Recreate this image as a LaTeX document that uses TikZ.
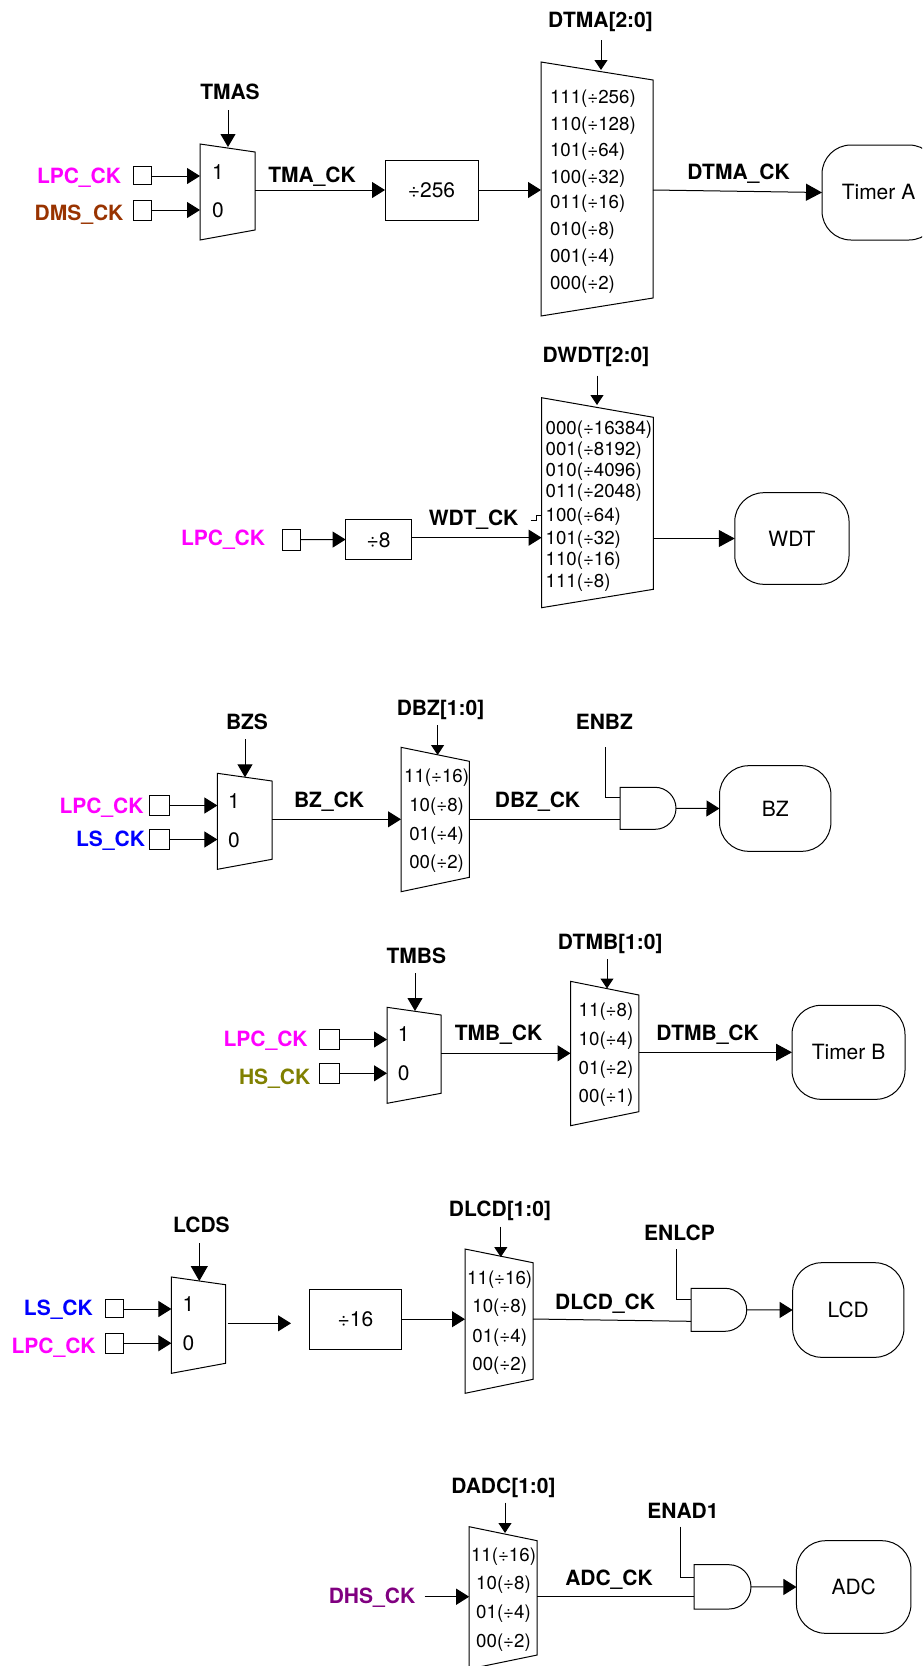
\documentclass[tikz,border=0pt]{standalone}
\usepackage{fontspec}
\setmainfont{TeX Gyre Heros}
\usetikzlibrary{arrows.meta,calc}
\definecolor{cLPC}{RGB}{255,0,255}
\definecolor{cDMS}{RGB}{153,51,0}
\definecolor{cLS}{RGB}{0,0,255}
\definecolor{cHS}{RGB}{128,128,0}
\definecolor{cDHS}{RGB}{128,0,128}
\tikzset{
  wire/.style={line width=1pt,draw=black},
  flowarrow/.style={wire,-{Triangle[length=13pt,width=16pt]}},
  bigarrow/.style={wire,-{Triangle[length=16pt,width=17pt]}},
  selarrow/.style={wire,-{Triangle[length=10pt,width=13pt]}},
  selbig/.style={wire,-{Triangle[length=13pt,width=15pt]}},
  txt/.style={inner sep=0pt,outer sep=0pt,text height=15pt,text depth=0pt,font=\fontsize{21}{21}\selectfont},
  lbl/.style={txt,font=\fontsize{21}{21}\selectfont\bfseries},
  row/.style={inner sep=0pt,outer sep=0pt,text height=13.5pt,text depth=0pt,font=\fontsize{18.7}{19}\selectfont},
  rowl/.style={row,anchor=west},
  pin/.style={draw,line width=1pt,inner sep=0pt,outer sep=0pt,fill=white},
  divbox/.style={draw,line width=1pt,inner sep=0pt,outer sep=0pt,txt},
  block/.style={draw,line width=1pt,inner sep=0pt,outer sep=0pt,rounded corners=29pt,txt},
  area/.style={inner sep=0pt,outer sep=0pt},
}
% mux: name, x left, x right, y top-left, y top-right, y bottom-right, y bottom-left
\newcommand{\muxshape}[7]{%
  \pgfmathsetmacro{\mw}{#3-#2}\pgfmathsetmacro{\mh}{#7-#4}%
  \pgfmathsetmacro{\mx}{(#2+#3)/2}\pgfmathsetmacro{\my}{(#4+#7)/2}%
  \node[area,minimum width=\mw pt,minimum height=\mh pt] (#1) at (\mx,\my) {};
  \draw[wire,line join=miter] (#2,#4) -- (#3,#5) -- (#3,#6) -- (#2,#7) -- cycle;
}
% AND gate: name, left, top, x where curve starts, right, bottom
\newcommand{\andshape}[6]{%
  \pgfmathsetmacro{\mw}{#5-#2}\pgfmathsetmacro{\mh}{#6-#3}%
  \pgfmathsetmacro{\mx}{(#2+#5)/2}\pgfmathsetmacro{\my}{(#3+#6)/2}%
  \pgfmathsetmacro{\ca}{#4+0.5523*(#5-#4)}%
  \pgfmathsetmacro{\cb}{\my-0.5523*(\my-#3)}\pgfmathsetmacro{\cc}{\my+0.5523*(\my-#3)}%
  \node[area,minimum width=\mw pt,minimum height=\mh pt] (#1) at (\mx,\my) {};
  \draw[wire] (#2,#3) -- (#4,#3) .. controls (\ca,#3) and (#5,\cb) .. (#5,\my) .. controls (#5,\cc) and (\ca,#6) .. (#4,#6) -- (#2,#6) -- cycle;
}
\begin{document}
\begin{tikzpicture}[x=1pt,y=-1pt]
\useasboundingbox (0,0) rectangle (922,1666);
\clip (0,0) rectangle (922,1666);

%% ---------- Timer A
\muxshape{mA}{200}{255}{144}{152}{230}{240}
\node[txt] (mA1) at (218,172) {1};
\node[txt] (mA0) at (218,210) {0};
\node[lbl] (tTMAS) at (230,92) {TMAS};
\coordinate (sTMAS) at (228,110);
\coordinate (eTMAS) at (228,147);
\draw[selbig] (sTMAS) -- (eTMAS);
\node[lbl,text=cLPC] (tA1) at (79,175.5) {LPC\_CK};
\node[lbl,text=cDMS] (tA2) at (79,213) {DMS\_CK};
\node[pin,minimum width=18.5pt,minimum height=18pt] (pA1) at (142.7,175) {};
\node[pin,minimum width=18.5pt,minimum height=20pt] (pA2) at (142.7,210) {};
\draw[flowarrow] (pA1.east |- 0,176) -- (mA.west |- 0,176);
\draw[flowarrow] (pA2.east) -- (mA.west |- pA2.east);
\node[divbox,minimum width=93pt,minimum height=60pt] (dA) at (431.5,190) {÷256};
\draw[flowarrow] (mA.east |- dA.west) -- (dA.west);
\node[lbl] (tTMACK) at (312,175) {TMA\_CK};
\muxshape{mB}{541}{653}{62}{80}{298}{316}
\node[lbl] (tDTMA) at (600.5,20) {DTMA[2:0]};
\coordinate (sDTMA) at (601,40);
\coordinate (eDTMA) at (601,70);
\draw[selarrow] (sDTMA) -- (eDTMA);
\draw[flowarrow] (dA.east) -- (mB.west |- dA.east);
\node[rowl] (a1) at (550,97) {111(÷256)};
\node[rowl] (a2) at (550,124) {110(÷128)};
\node[rowl] (a3) at (550,150) {101(÷64)};
\node[rowl] (a4) at (550,177) {100(÷32)};
\node[rowl] (a5) at (550,202) {011(÷16)};
\node[rowl] (a6) at (550,229) {010(÷8)};
\node[rowl] (a7) at (550,256) {001(÷4)};
\node[rowl] (a8) at (550,283) {000(÷2)};
\node[block,minimum width=116pt,minimum height=95pt] (bA) at (880,192.5) {};
\node[txt] (tbA) at (878.5,192) {Timer A};
\draw[bigarrow] (mB.east |- 0,190) -- (bA.west);
\node[lbl] (tDTMACK) at (738.5,172) {DTMA\_CK};

%% ---------- WDT
\node[lbl,text=cLPC] (tW1) at (223,538.3) {LPC\_CK};
\node[pin,minimum width=18pt,minimum height=21pt] (pW) at (291,539.7) {};
\node[divbox,minimum width=66pt,minimum height=39.6pt] (dW) at (378.6,539.5) {÷8};
\draw[flowarrow] (pW.east) -- (dW.west);
\muxshape{mW}{541.6}{653.4}{397.7}{417.3}{589.3}{607.7}
\node[lbl] (tDWDT) at (596,355) {DWDT[2:0]};
\coordinate (sDWDT) at (597,375.7);
\coordinate (eDWDT) at (597,405);
\draw[selarrow] (sDWDT) -- (eDWDT);
\node[rowl] (w1) at (545.6,427.7) {000(÷16384)};
\node[rowl] (w2) at (545.6,448.7) {001(÷8192)};
\node[rowl] (w3) at (545.6,469.3) {010(÷4096)};
\node[rowl] (w4) at (545.6,490.7) {011(÷2048)};
\node[rowl] (w5) at (545.6,515) {100(÷64)};
\node[rowl] (w6) at (545.6,538) {101(÷32)};
\node[rowl] (w7) at (545.6,559) {110(÷16)};
\node[rowl] (w8) at (545.6,580.7) {111(÷8)};
\coordinate (jog) at (530.7,520);
\draw[line width=0.6pt] (jog) -- (536,520) -- (536,515.5) -- (mW.west |- 0,515.5);
\draw[flowarrow] (dW.east |- 0,537.7) -- (mW.west |- 0,537.7);
\node[lbl] (tWDTCK) at (473.6,518.3) {WDT\_CK};
\node[block,minimum width=114.3pt,minimum height=91.6pt] (bW) at (791.9,538.5) {WDT};
\draw[bigarrow] (mW.east |- bW.west) -- (bW.west);

%% ---------- BZ
\muxshape{mZ}{217.4}{272}{773.3}{781}{859.3}{869.3}
\node[txt] (mZ1) at (234,800.7) {1};
\node[txt] (mZ0) at (234,839.7) {0};
\node[lbl] (tBZS) at (247,721.7) {BZS};
\coordinate (sBZS) at (245,739.3);
\coordinate (eBZS) at (245,777.3);
\draw[selbig] (sBZS) -- (eBZS);
\node[lbl,text=cLPC] (tZ1) at (101.5,805.7) {LPC\_CK};
\node[lbl,text=cLS] (tZ2) at (110.5,839.3) {LS\_CK};
\node[pin,minimum width=20pt,minimum height=20.4pt] (pZ1) at (159.7,805.5) {};
\node[pin,minimum width=20pt,minimum height=20.4pt] (pZ2) at (159.7,839.5) {};
\draw[flowarrow] (pZ1.east) -- (mZ.west |- pZ1.east);
\draw[flowarrow] (pZ2.east) -- (mZ.west |- pZ2.east);
\muxshape{mY}{401}{469.4}{747.3}{761.3}{877.3}{891.7}
\node[lbl] (tDBZ) at (440.5,708.3) {DBZ[1:0]};
\coordinate (sDBZ) at (437.6,725.3);
\coordinate (eDBZ) at (437.6,755);
\draw[selarrow] (sDBZ) -- (eDBZ);
\draw[flowarrow] (mZ.east |- 0,819.3) -- (mY.west |- 0,819.3);
\node[lbl] (tBZCK) at (329,799.7) {BZ\_CK};
\node[row] (z1) at (436.6,776) {11(÷16)};
\node[row] (z2) at (436.6,805) {10(÷8)};
\node[row] (z3) at (436.6,833.7) {01(÷4)};
\node[row] (z4) at (436.6,862) {00(÷2)};
\andshape{gZ}{620}{787.3}{655}{676}{829.3}
\draw[wire] (mY.east |- 0,819.3) -- (gZ.west |- 0,819.3);
\node[lbl] (tDBZCK) at (537.5,799.7) {DBZ\_CK};
\node[lbl] (tENBZ) at (604.4,721.7) {ENBZ};
\coordinate (sENBZ) at (605,747.3);
\draw[wire] (sENBZ) |- (gZ.west |- 0,797.3);
\node[block,minimum width=111.4pt,minimum height=85.6pt] (bZ) at (775.2,808.5) {BZ};
\draw[flowarrow] (gZ.east) -- (bZ.west);

%% ---------- Timer B
\muxshape{mT}{387}{441}{1007.3}{1015}{1093.3}{1103.3}
\node[txt] (mT1) at (403.7,1034.3) {1};
\node[txt] (mT0) at (403.7,1072.7) {0};
\node[lbl] (tTMBS) at (416.4,955.7) {TMBS};
\coordinate (sTMBS) at (415,973.3);
\coordinate (eTMBS) at (415,1011);
\draw[selbig] (sTMBS) -- (eTMBS);
\node[lbl,text=cLPC] (tT1) at (265.6,1038.7) {LPC\_CK};
\node[lbl,text=cHS] (tT2) at (274.6,1076.7) {HS\_CK};
\node[pin,minimum width=20pt,minimum height=20.4pt] (pT1) at (329.7,1039.5) {};
\node[pin,minimum width=20pt,minimum height=20pt] (pT2) at (329.7,1073.3) {};
\draw[flowarrow] (pT1.east) -- (mT.west |- pT1.east);
\draw[flowarrow] (pT2.east) -- (mT.west |- pT2.east);
\muxshape{mU}{570.5}{638.8}{981.3}{995}{1111.7}{1125.7}
\node[lbl] (tDTMB) at (610.2,941.7) {DTMB[1:0]};
\coordinate (sDTMB) at (607,959.3);
\coordinate (eDTMB) at (607,988.5);
\draw[selarrow] (sDTMB) -- (eDTMB);
\draw[flowarrow] (mT.east |- 0,1053.3) -- (mU.west |- 0,1053.3);
\node[lbl] (tTMBCK) at (498.5,1033.3) {TMB\_CK};
\node[row] (t1) at (606,1010) {11(÷8)};
\node[row] (t2) at (606,1039) {10(÷4)};
\node[row] (t3) at (606,1067.7) {01(÷2)};
\node[row] (t4) at (606,1096) {00(÷1)};
\node[block,minimum width=113pt,minimum height=94pt] (bT) at (848.5,1052.3) {Timer B};
\draw[bigarrow] (mU.east |- bT.west) -- (bT.west);
\node[lbl] (tDTMBCK) at (707.6,1033.3) {DTMB\_CK};

%% ---------- LCD
\muxshape{mL}{171.4}{225.5}{1277}{1284.7}{1363.3}{1373.3}
\node[txt] (mL1) at (188.5,1304) {1};
\node[txt] (mL0) at (188.5,1343) {0};
\node[lbl] (tLCDS) at (201.4,1225) {LCDS};
\coordinate (sLCDS) at (199.3,1243.3);
\coordinate (eLCDS) at (199.3,1281);
\draw[wire,-{Triangle[length=15pt,width=17pt]}] (sLCDS) -- (eLCDS);
\node[lbl,text=cLS] (tL1) at (58.4,1308.3) {LS\_CK};
\node[lbl,text=cLPC] (tL2) at (53.6,1346.3) {LPC\_CK};
\node[pin,minimum width=18.2pt,minimum height=18.3pt] (pL1) at (114.6,1308.2) {};
\node[pin,minimum width=18.2pt,minimum height=20.3pt] (pL2) at (114.6,1343.2) {};
\draw[flowarrow] (pL1.east |- 0,1309) -- (mL.west |- 0,1309);
\draw[flowarrow] (pL2.east) -- (mL.west |- pL2.east);
\node[divbox,minimum width=91.6pt,minimum height=60.3pt] (dL) at (355.4,1319.2) {÷16};
\coordinate (sLfree) at (227.6,1323.3);
\coordinate (eLfree) at (291,1323.3);
\draw[flowarrow] (sLfree) -- (eLfree);
\muxshape{mM}{465}{533}{1249}{1262.7}{1379.3}{1393.3}
\node[lbl] (tDLCD) at (500,1209) {DLCD[1:0]};
\coordinate (sDLCD) at (500.8,1226.7);
\coordinate (eDLCD) at (500.8,1257);
\draw[selarrow] (sDLCD) -- (eDLCD);
\draw[flowarrow] (dL.east) -- (mM.west |- dL.east);
\node[row] (l1) at (499.7,1278) {11(÷16)};
\node[row] (l2) at (499.7,1306) {10(÷8)};
\node[row] (l3) at (499.7,1335.7) {01(÷4)};
\node[row] (l4) at (499.7,1363.7) {00(÷2)};
\andshape{gL}{691}{1288.3}{725}{746.7}{1331.3}
\draw[wire] (mM.east |- 0,1319) -- (gL.west |- 0,1321.3);
\node[lbl] (tDLCDCK) at (605,1301.7) {DLCD\_CK};
\node[lbl] (tENLCP) at (679.5,1233.3) {ENLCP};
\coordinate (sENLCP) at (676.5,1249);
\draw[wire] (sENLCP) |- (gL.west |- 0,1299);
\node[block,minimum width=111.3pt,minimum height=94.6pt] (bL) at (848.3,1310) {LCD};
\draw[flowarrow] (gL.east) -- (bL.west);

%% ---------- ADC
\node[lbl,text=cDHS] (tD1) at (372,1595.7) {DHS\_CK};
\muxshape{mD}{469.2}{537.2}{1526.7}{1540.7}{1655}{1669}
\coordinate (sDHS) at (424.7,1596.7);
\draw[flowarrow] (sDHS) -- (mD.west |- sDHS);
\node[lbl] (tDADC) at (503.5,1486) {DADC[1:0]};
\coordinate (sDADC) at (505,1502.7);
\coordinate (eDADC) at (505,1533);
\draw[selarrow] (sDADC) -- (eDADC);
\node[row] (d1) at (503.5,1555) {11(÷16)};
\node[row] (d2) at (503.5,1583) {10(÷8)};
\node[row] (d3) at (503.5,1612) {01(÷4)};
\node[row] (d4) at (503.5,1640.7) {00(÷2)};
\andshape{gD}{694}{1564.7}{729}{751}{1609}
\draw[wire] (mD.east |- 0,1596.7) -- (gD.west |- 0,1596.7);
\node[lbl] (tADCCK) at (609,1578.3) {ADC\_CK};
\node[lbl] (tENAD) at (683,1510.7) {ENAD1};
\coordinate (sENAD) at (680.8,1526.7);
\draw[wire] (sENAD) |- (gD.west |- 0,1577);
\node[block,minimum width=114.5pt,minimum height=92.6pt] (bD) at (853.7,1587) {ADC};
\draw[flowarrow] (gD.east) -- (bD.west);
\end{tikzpicture}
\end{document}
